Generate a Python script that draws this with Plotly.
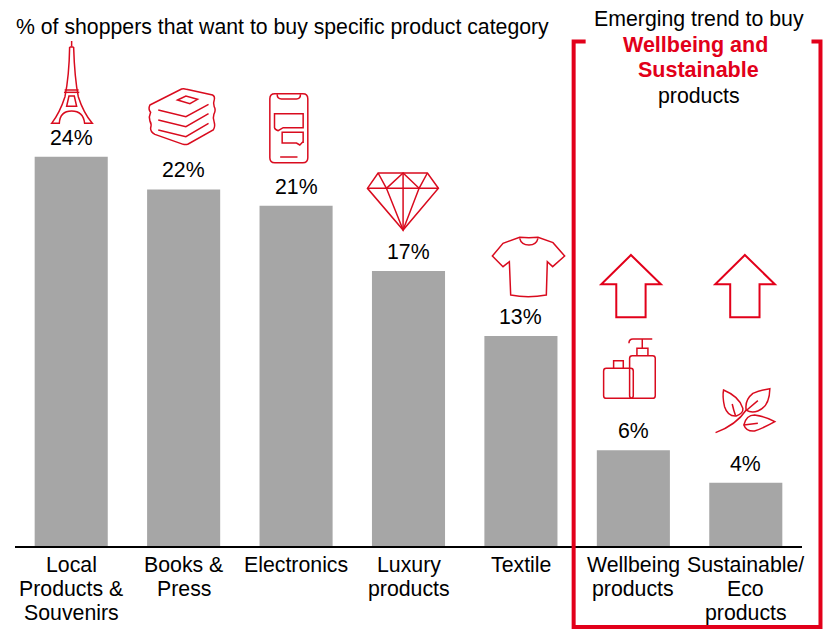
import re
import plotly.graph_objects as go

# Survey data
categories = ["Local Products & Souvenirs", "Books & Press", "Electronics", "Luxury products",
              "Textile", "Wellbeing products", "Sustainable/ Eco products"]
category_lines = [["Local", "Products &", "Souvenirs"], ["Books &", "Press"], ["Electronics"],
                  ["Luxury", "products"], ["Textile"], ["Wellbeing", "products"],
                  ["Sustainable/", "Eco", "products"]]
shares = [24, 22, 21, 17, 13, 6, 4]

W, H = 827, 633
LEFT, PLOT_W, PLOT_H = 15, 787.5, 546
PX_PER_UNIT = 16.3
BASE_OFFSET = 2 / PX_PER_UNIT  # bar feet sit under the 2px axis line
FONT = "Liberation Sans"
TXT = 21.3
RED = "#E2001A"
ICON_RED = "#D90B1E"
GREY = "#A6A6A6"


def fx(px):
    return (px - LEFT) / PLOT_W


def fy(py):
    return (PLOT_H - py) / PLOT_H


def place(path, ox, oy, s=1 / 3):
    """Convert a path drawn in local units to figure-fraction coordinates."""
    out, is_x = [], True
    for tok in re.findall(r"[A-Za-z]|-?\d+\.?\d*", path):
        if tok.isalpha():
            out.append(tok)
            is_x = True
        else:
            v = float(tok)
            if is_x:
                out.append(f"{fx(ox + v * s):.5f}")
            else:
                out.append(f"{fy(oy + v * s):.5f}")
            is_x = not is_x
    # re-join as "M x,y" pairs
    res, i = [], 0
    while i < len(out):
        if out[i].isalpha():
            res.append(out[i])
            i += 1
        else:
            res.append(out[i] + "," + out[i + 1])
            i += 2
    return " ".join(res)


def expand(path):
    """Spell H and V segments out as L so both coordinates are present."""
    toks = re.findall(r"[A-Za-z]|-?\d+\.?\d*", path)
    res, i, cx, cy = [], 0, 0.0, 0.0
    while i < len(toks):
        t = toks[i]
        if t == "H":
            cx = float(toks[i + 1]); res += ["L", str(cx), str(cy)]; i += 2
        elif t == "V":
            cy = float(toks[i + 1]); res += ["L", str(cx), str(cy)]; i += 2
        elif t == "Z":
            res.append("Z"); i += 1
        elif t.isalpha():
            res.append(t); i += 1
        else:
            cx, cy = float(toks[i]), float(toks[i + 1])
            res += [toks[i], toks[i + 1]]; i += 2
    return " ".join(res)


def rrect(x0, y0, x1, y1, r):
    return (f"M{x0 + r},{y0} L{x1 - r},{y0} Q{x1},{y0} {x1},{y0 + r} L{x1},{y1 - r} Q{x1},{y1} {x1 - r},{y1} "
            f"L{x0 + r},{y1} Q{x0},{y1} {x0},{y1 - r} L{x0},{y0 + r} Q{x0},{y0} {x0 + r},{y0} Z")


# Pictograms, written in local units
eiffel = ["M125,18 L125,35", "M119,36 L131,36",
          "M119,36 C118,100 112,150 105,185 Q90,232 65,265 L88,265 Q90,228 125,228 Q160,228 164,265 L187,265 Q160,232 145,185 C138,150 133,100 131,36",
          "M104,165 L146,165", "M102,172 L148,172",
          "M117,183 L133,183 L140,214 L110,214 Z"]
books = ["M360,210 L455,162 Q462,160 470,163 L548,180 Q556,184 553,195 Q549,205 553,215 Q559,225 552,238 Q548,250 553,262 Q557,275 550,285 L475,327 Q468,330 460,328 L375,298 Q362,292 362,280 Q366,268 360,258 Q356,245 362,232 Q354,222 360,210 Z",
         "M385,225 L468,245 L536,208", "M385,255 L468,275 L536,236", "M385,285 L468,305 L536,265",
         "M443,195 L468,183 L503,193 L480,206 Z"]
phone = [rrect(30, 26, 144, 233, 15), "M52,28 Q52,42 65,42 L110,42 Q122,42 122,28",
         "M44,86 H130 V128 H70 L55,137 Q45,134 44,128 Z",
         "M67,142 H130 V172 H128 L120,180 L110,174 H67 Z", "M61,216 H113"]
diamond = ["M355,264 H503 L536,310 L430,435 L323,310 Z", "M323,310 H536",
           "M355,264 L380,310 L430,435 L478,310 L503,264", "M380,310 L430,264 L478,310", "M430,264 V435"]
shirt = ["M105,22 Q133,24 160,22 L205,38 L240,78 L204,110 L188,95 L185,195 Q130,205 78,195 L74,95 L55,110 L23,78 L55,40 Z",
         "M105,25 Q110,45 133,45 Q155,45 160,25"]
arrow_a = ["M124,15 L214,103 H168 V202 H80 V103 H35 Z"]
arrow_b = ["M466,15 L556,103 H510 V202 H422 V103 H377 Z"]
bottles = [rrect(120, 317, 197, 445, 8), rrect(42, 355, 131, 445, 8),
           "M72,355 V332 H101 V355", "M142,317 V295 H175 V317", "M158,295 V267",
           "M118,280 Q118,267 130,267 H188"]
leaves = ["M378,548 Q440,525 470,480", "M402,420 Q450,440 460,475 Q462,490 440,498 Q415,500 405,470 Q398,440 402,420 Z",
          "M428,462 Q432,480 438,497", "M541,416 Q540,470 505,483 Q485,490 470,480 Q465,450 490,430 Q515,420 541,416 Z",
          "M472,480 L505,452", "M556,515 Q520,535 495,543 Q470,545 463,525 Q470,495 495,495 Q530,500 556,515 Z",
          "M463,525 L505,520"]

shapes = []


def add_icon(parts, ox, oy, width=1.5, colour=ICON_RED):
    for p in parts:
        shapes.append(dict(type="path", xref="paper", yref="paper",
                           path=place(expand(p), ox, oy),
                           line=dict(color=colour, width=width)))


add_icon(eiffel, 30, 35)
add_icon(books, 30, 35)
add_icon(phone, 260, 85)
add_icon(diamond, 260, 85)
add_icon(shirt, 485, 230)
add_icon(arrow_a, 590, 250, width=2, colour=RED)
add_icon(arrow_b, 590, 250, width=2, colour=RED)
add_icon(bottles, 590, 250)
add_icon(leaves, 590, 250)

# Bracket round the emerging-trend group
shapes.append(dict(type="path", xref="paper", yref="paper",
                   path=place("M586,41.5 L574,41.5 L574,627 L821,627 L821,41.5 L812,41.5", 0, 0, 1),
                   line=dict(color=RED, width=4)))

annotations = []


def text(x, y, s, anchor="center", colour="#000000", bold=False, size=TXT):
    annotations.append(dict(x=fx(x), y=fy(y), xref="paper", yref="paper", text=f"<b>{s}</b>" if bold else s,
                            showarrow=False, xanchor=anchor, yanchor="middle",
                            font=dict(family=FONT, size=size, color=colour)))


text(14, 27, "% of shoppers that want to buy specific product category", anchor="left", size=21.25)
text(699, 19, "Emerging trend to buy")
text(696, 45, "Wellbeing and", colour=RED, bold=True, size=21.5)
text(699, 70, "Sustainable", colour=RED, bold=True, size=21.5)
text(699, 96, "products")

# Value labels sit on top of their bars
for i, v in enumerate(shares):
    annotations.append(dict(x=i, y=v, xref="x", yref="y", text=f"{v}%", showarrow=False,
                            xanchor="center", yanchor="middle", yshift=19,
                            font=dict(family=FONT, size=TXT, color="#000000")))

# Category names, one annotation per line for tight leading
for i, lines in enumerate(category_lines):
    for j, line in enumerate(lines):
        annotations.append(dict(x=i, y=0, xref="x", yref="paper", text=line, showarrow=False,
                                xanchor="center", yanchor="middle", yshift=-19 - 24 * j,
                                font=dict(family=FONT, size=TXT, color="#000000")))

fig = go.Figure(go.Bar(x=list(range(len(categories))), y=shares, width=0.65,
                       marker=dict(color=GREY, line=dict(width=0)),
                       hovertext=categories, hoverinfo="text+y"))
fig.update_layout(
    width=W, height=H, autosize=False, showlegend=False,
    margin=dict(l=LEFT, r=W - LEFT - PLOT_W, t=0, b=H - PLOT_H, pad=0),
    paper_bgcolor="white", plot_bgcolor="white",
    xaxis=dict(range=[-0.5, 6.5], showticklabels=False, ticks="", showgrid=False, zeroline=False,
               showline=True, linecolor="black", linewidth=2),
    yaxis=dict(range=[BASE_OFFSET, BASE_OFFSET + PLOT_H / PX_PER_UNIT], visible=False,
               showgrid=False, zeroline=False),
    shapes=shapes, annotations=annotations,
)
fig.write_html("out.html")
